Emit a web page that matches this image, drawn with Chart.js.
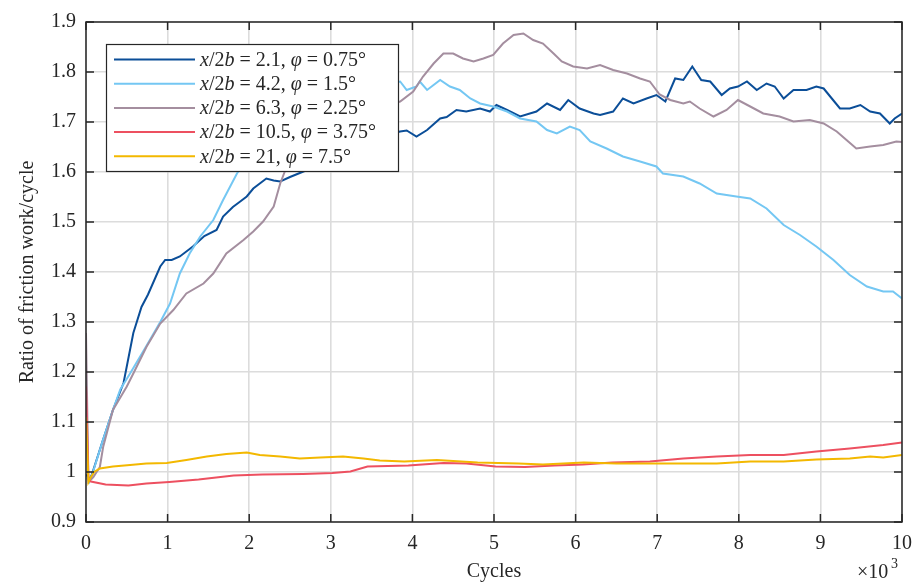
<!DOCTYPE html>
<html>
<head>
<meta charset="utf-8">
<script src="https://cdn.jsdelivr.net/npm/chart.js@4.4.1/dist/chart.umd.min.js"></script>
<style>
    html, body { margin: 0; padding: 0; background: #ffffff; }
    canvas { display: block; }
</style>
</head>
<body>
<canvas id="frictionChart" width="915" height="582"></canvas>
<script>

// x values are in thousands of cycles
const xTickValues = [0, 1, 2, 3, 4, 5, 6, 7, 8, 9, 10];
const yTickValues = [0.9, 1, 1.1, 1.2, 1.3, 1.4, 1.5, 1.6, 1.7, 1.8, 1.9];
const yTickLabels = ['0.9', '1', '1.1', '1.2', '1.3', '1.4', '1.5', '1.6', '1.7', '1.8', '1.9'];

const spacingLabels = ['2.1', '4.2', '6.3', '10.5', '21'];
const angleLabels = ['0.75', '1.5', '2.25', '3.75', '7.5'];

const cyclesA = [0, 0.04, 0.07, 0.2, 0.33, 0.46, 0.58, 0.68, 0.76, 0.91, 0.97, 1.05, 1.15, 1.31, 1.45, 1.6, 1.68, 1.8, 1.89, 1.97, 2.05, 2.21, 2.3, 2.38, 2.5, 2.62, 2.8, 3.0, 3.2, 3.45, 3.7, 3.85, 3.93, 4.05, 4.18, 4.34, 4.42, 4.54, 4.66, 4.83, 4.95, 5.03, 5.16, 5.32, 5.52, 5.65, 5.81, 5.91, 6.05, 6.22, 6.3, 6.46, 6.58, 6.71, 6.87, 6.99, 7.1, 7.22, 7.32, 7.43, 7.54, 7.65, 7.79, 7.89, 7.99, 8.1, 8.22, 8.34, 8.44, 8.55, 8.67, 8.83, 8.95, 9.04, 9.14, 9.24, 9.36, 9.49, 9.61, 9.73, 9.85, 9.91, 10];
const ratioA = [0.995, 0.985, 0.994, 1.06, 1.124, 1.178, 1.278, 1.33, 1.355, 1.411, 1.424, 1.424, 1.431, 1.451, 1.472, 1.484, 1.511, 1.53, 1.541, 1.551, 1.567, 1.587, 1.583, 1.581, 1.59, 1.598, 1.61, 1.62, 1.63, 1.65, 1.675, 1.681, 1.683, 1.671, 1.684, 1.707, 1.71, 1.724, 1.721, 1.727, 1.721, 1.734, 1.724, 1.711, 1.721, 1.737, 1.724, 1.744, 1.727, 1.717, 1.714, 1.721, 1.747, 1.737, 1.747, 1.754, 1.741, 1.787, 1.784, 1.811, 1.784, 1.781, 1.754, 1.767, 1.771, 1.781, 1.764, 1.777, 1.771, 1.747, 1.764, 1.764, 1.771, 1.767, 1.747, 1.727, 1.727, 1.734, 1.721, 1.717, 1.697, 1.707, 1.717];

const cyclesB = [0, 0.04, 0.08, 0.2, 0.33, 0.42, 0.54, 0.74, 0.91, 1.03, 1.15, 1.27, 1.4, 1.56, 1.68, 1.85, 2.0, 2.3, 2.7, 3.1, 3.5, 3.85, 3.93, 4.05, 4.09, 4.18, 4.34, 4.46, 4.58, 4.71, 4.83, 4.99, 5.16, 5.32, 5.52, 5.65, 5.77, 5.93, 6.05, 6.18, 6.38, 6.58, 6.79, 6.99, 7.07, 7.32, 7.52, 7.73, 7.97, 8.14, 8.34, 8.55, 8.75, 8.95, 9.16, 9.36, 9.57, 9.77, 9.89, 10];
const ratioB = [0.99, 0.98, 0.997, 1.06, 1.124, 1.165, 1.197, 1.252, 1.3, 1.337, 1.397, 1.437, 1.471, 1.504, 1.544, 1.597, 1.63, 1.68, 1.72, 1.75, 1.77, 1.781, 1.764, 1.771, 1.781, 1.764, 1.784, 1.771, 1.764, 1.747, 1.737, 1.731, 1.721, 1.707, 1.701, 1.684, 1.677, 1.691, 1.684, 1.661, 1.647, 1.631, 1.621, 1.611, 1.597, 1.591, 1.577, 1.557, 1.551, 1.547, 1.527, 1.494, 1.474, 1.451, 1.424, 1.394, 1.371, 1.361, 1.361, 1.347];

const cyclesC = [0, 0.03, 0.09, 0.17, 0.21, 0.33, 0.5, 0.58, 0.74, 0.91, 1.07, 1.23, 1.44, 1.56, 1.72, 1.93, 2.05, 2.17, 2.3, 2.38, 2.46, 2.6, 2.9, 3.3, 3.6, 3.85, 4.01, 4.13, 4.26, 4.38, 4.5, 4.62, 4.75, 4.87, 4.99, 5.11, 5.24, 5.36, 5.48, 5.6, 5.73, 5.83, 5.97, 6.14, 6.3, 6.46, 6.63, 6.79, 6.91, 7.03, 7.16, 7.32, 7.4, 7.52, 7.69, 7.85, 7.99, 8.14, 8.3, 8.5, 8.67, 8.87, 9.04, 9.2, 9.32, 9.44, 9.61, 9.77, 9.93, 10];
const ratioC = [1.278, 0.98, 0.99, 1.01, 1.05, 1.124, 1.171, 1.197, 1.25, 1.297, 1.324, 1.357, 1.377, 1.397, 1.437, 1.464, 1.481, 1.501, 1.531, 1.577, 1.611, 1.64, 1.68, 1.71, 1.73, 1.741, 1.761, 1.791, 1.817, 1.837, 1.837, 1.827, 1.821, 1.827, 1.834, 1.857, 1.874, 1.877, 1.864, 1.857, 1.837, 1.821, 1.811, 1.807, 1.814, 1.804, 1.797, 1.787, 1.781, 1.755, 1.744, 1.737, 1.741, 1.727, 1.711, 1.724, 1.744, 1.731, 1.717, 1.711, 1.701, 1.704, 1.697, 1.681, 1.664, 1.647, 1.651, 1.654, 1.661, 1.66];

const cyclesD = [0, 0.03, 0.06, 0.24, 0.52, 0.74, 1.02, 1.38, 1.81, 2.16, 2.66, 3.02, 3.24, 3.45, 3.95, 4.38, 4.66, 5.02, 5.38, 5.74, 6.09, 6.45, 6.91, 7.32, 7.73, 8.14, 8.55, 8.95, 9.36, 9.77, 10];
const ratioD = [1.171, 0.985, 0.981, 0.975, 0.973, 0.977, 0.98, 0.985, 0.993, 0.995, 0.996, 0.998, 1.001, 1.011, 1.013, 1.018, 1.017, 1.011, 1.01, 1.013, 1.015, 1.019, 1.021, 1.027, 1.031, 1.034, 1.034, 1.041, 1.047, 1.054, 1.059];

const cyclesE = [0, 0.03, 0.05, 0.1, 0.17, 0.33, 0.54, 0.74, 0.99, 1.23, 1.48, 1.72, 1.97, 2.13, 2.38, 2.62, 2.87, 3.15, 3.4, 3.6, 3.9, 4.3, 4.8, 5.3, 5.6, 6.1, 6.5, 6.91, 7.32, 7.73, 8.14, 8.55, 8.95, 9.36, 9.61, 9.77, 10];
const ratioE = [1.11, 0.98, 0.987, 1.0, 1.007, 1.011, 1.014, 1.017, 1.018, 1.024, 1.031, 1.036, 1.039, 1.034, 1.031, 1.027, 1.029, 1.031, 1.027, 1.023, 1.021, 1.024, 1.019, 1.017, 1.015, 1.019, 1.017, 1.017, 1.017, 1.017, 1.021, 1.021, 1.025, 1.027, 1.031, 1.029, 1.034];

const seriesColors = ['#0b4e98', '#74c7f3', '#a48e9f', '#ed5060', '#f3b800'];

const axisColor = '#262626';
const gridColor = '#dcdcdc';
const fontFamily = "'Liberation Serif', 'DejaVu Serif', serif";

function toPoints(xs, ys) {
    return xs.map((x, i) => ({ x: x, y: ys[i] }));
}

const allSeries = [
    toPoints(cyclesA, ratioA),
    toPoints(cyclesB, ratioB),
    toPoints(cyclesC, ratioC),
    toPoints(cyclesD, ratioD),
    toPoints(cyclesE, ratioE)
];

// matlab-style box, inward ticks, legend and exponent label
const framePlugin = {

    id: 'frame',

    afterDatasetsDraw(chart) {

        const ctx = chart.ctx;
        const area = chart.chartArea;
        const xs = chart.scales.x;
        const ys = chart.scales.y;
        const tick = 8;

        ctx.save();

        ctx.strokeStyle = axisColor;
        ctx.lineWidth = 1.5;
        ctx.beginPath();

        xTickValues.forEach(v => {
            const p = xs.getPixelForValue(v);
            ctx.moveTo(p, area.bottom);
            ctx.lineTo(p, area.bottom - tick);
            ctx.moveTo(p, area.top);
            ctx.lineTo(p, area.top + tick);
        });

        yTickValues.forEach(v => {
            const p = ys.getPixelForValue(v);
            ctx.moveTo(area.left, p);
            ctx.lineTo(area.left + tick, p);
            ctx.moveTo(area.right, p);
            ctx.lineTo(area.right - tick, p);
        });

        ctx.stroke();
        ctx.strokeRect(area.left, area.top, area.right - area.left, area.bottom - area.top);

        // legend
        const box = { left: 106.5, top: 44.5, width: 292, height: 127 };
        ctx.fillStyle = '#ffffff';
        ctx.fillRect(box.left, box.top, box.width, box.height);
        ctx.lineWidth = 1.2;
        ctx.strokeRect(box.left, box.top, box.width, box.height);

        const normal = `20px ${fontFamily}`;
        const italic = `italic 20px ${fontFamily}`;

        chart.data.datasets.forEach((ds, i) => {

            const rowY = 59.5 + i * 24.2;

            ctx.strokeStyle = ds.borderColor;
            ctx.lineWidth = 2;
            ctx.beginPath();
            ctx.moveTo(114, rowY);
            ctx.lineTo(195, rowY);
            ctx.stroke();

            const parts = [
                ['x', italic],
                ['/2', normal],
                ['b', italic],
                [' = ', normal],
                [spacingLabels[i] + ', ', normal],
                ['\u03C6', italic],
                [' = ', normal],
                [angleLabels[i] + '\u00B0', normal]
            ];

            let cursor = 200;
            ctx.fillStyle = axisColor;
            ctx.textBaseline = 'middle';
            ctx.textAlign = 'left';

            parts.forEach(([text, font]) => {
                ctx.font = font;
                ctx.fillText(text, cursor, rowY + 1);
                cursor += ctx.measureText(text).width;
            });

        });

        // x 10^3
        ctx.fillStyle = axisColor;
        ctx.textBaseline = 'alphabetic';
        ctx.textAlign = 'left';
        ctx.font = normal;
        ctx.fillText('\u00D710', 857, 578);
        ctx.font = `14px ${fontFamily}`;
        ctx.fillText('3', 891, 568);

        ctx.restore();

    }

};

new Chart(document.getElementById('frictionChart'), {

    type: 'line',

    data: {
        datasets: allSeries.map((pts, i) => ({
            label: `x/2b = ${spacingLabels[i]}, \u03C6 = ${angleLabels[i]}\u00B0`,
            data: pts,
            borderColor: seriesColors[i],
            backgroundColor: seriesColors[i],
            borderWidth: 2,
            pointRadius: 0,
            tension: 0,
            order: 5 - i
        }))
    },

    options: {

        responsive: false,
        animation: false,

        layout: {
            padding: { top: 22, right: 13, left: 0, bottom: 0 }
        },

        plugins: {
            legend: { display: false },
            tooltip: { enabled: false }
        },

        scales: {

            x: {
                type: 'linear',
                min: 0,
                max: 10,
                afterFit: scale => {
                    scale.height = 60;
                    scale.paddingLeft = 0;
                    scale.paddingRight = 0;
                },
                afterBuildTicks: scale => {
                    scale.ticks = xTickValues.map(v => ({ value: v }));
                },
                border: { display: false },
                grid: {
                    color: gridColor,
                    lineWidth: 1.6,
                    drawTicks: false
                },
                ticks: {
                    color: axisColor,
                    padding: 10,
                    maxRotation: 0,
                    font: { family: fontFamily, size: 20 },
                    callback: v => String(v)
                },
                title: {
                    display: true,
                    text: 'Cycles',
                    color: axisColor,
                    font: { family: fontFamily, size: 20, lineHeight: 1 },
                    padding: { top: 0, bottom: 0 }
                }
            },

            y: {
                type: 'linear',
                min: 0.9,
                max: 1.9,
                afterFit: scale => {
                    scale.width = 86;
                    scale.paddingTop = 0;
                    scale.paddingBottom = 0;
                },
                afterBuildTicks: scale => {
                    scale.ticks = yTickValues.map(v => ({ value: v }));
                },
                border: { display: false },
                grid: {
                    color: gridColor,
                    lineWidth: 1.6,
                    drawTicks: false
                },
                ticks: {
                    color: axisColor,
                    padding: 10,
                    font: { family: fontFamily, size: 20 },
                    callback: (v, i) => yTickLabels[i]
                },
                title: {
                    display: true,
                    text: 'Ratio of friction work/cycle',
                    color: axisColor,
                    font: { family: fontFamily, size: 20, lineHeight: 1 },
                    padding: { top: 18, bottom: 0 }
                }
            }

        }

    },

    plugins: [framePlugin]

});

</script>
</body>
</html>
